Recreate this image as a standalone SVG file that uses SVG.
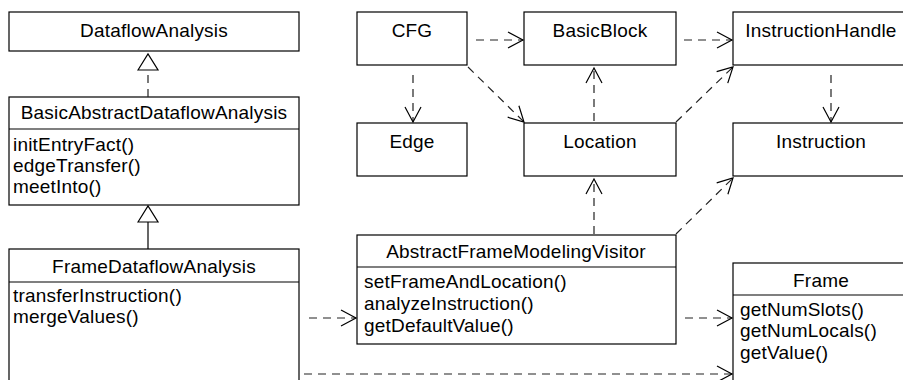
<svg xmlns="http://www.w3.org/2000/svg" width="903" height="380" viewBox="0 0 903 380">
<style>
.box{fill:#fff;stroke:#000;stroke-width:1.2}
.sep{stroke:#000;stroke-width:1.2}
text{font-family:"Liberation Sans",Arial,sans-serif;font-size:19px;fill:#000;letter-spacing:0.2px}
.c{text-anchor:middle}
.dep{fill:none;stroke:#222;stroke-width:1.2;stroke-dasharray:8,6}
.sol{fill:none;stroke:#000;stroke-width:1.2}
</style>
<defs>
<marker id="open" markerUnits="userSpaceOnUse" markerWidth="20" markerHeight="20" viewBox="0 0 20 20" refX="17" refY="10" orient="auto">
<path d="M2,2 L17,10 L2,18" fill="none" stroke="#000" stroke-width="1.2"/>
</marker>
<marker id="tri" markerUnits="userSpaceOnUse" markerWidth="22" markerHeight="24" viewBox="0 0 22 24" refX="19" refY="12" orient="auto">
<path d="M3,2 L19,12 L3,22 Z" fill="#fff" stroke="#000" stroke-width="1.2"/>
</marker>
</defs>

<g id="DataflowAnalysis">
<rect class="box" x="9" y="12" width="290" height="39"/>
<text class="c" x="154" y="37">DataflowAnalysis</text>
</g>
<g id="BasicAbstractDataflowAnalysis">
<rect class="box" x="9" y="97" width="290" height="108"/>
<line class="sep" x1="9" y1="129" x2="299" y2="129"/>
<text class="c" x="154" y="119">BasicAbstractDataflowAnalysis</text>
<text x="13" y="151">initEntryFact()</text>
<text x="13" y="172">edgeTransfer()</text>
<text x="13" y="193">meetInto()</text>
</g>
<g id="FrameDataflowAnalysis">
<rect class="box" x="9" y="249" width="290" height="140"/>
<line class="sep" x1="9" y1="282" x2="299" y2="282"/>
<text class="c" x="154" y="273">FrameDataflowAnalysis</text>
<text x="13" y="302">transferInstruction()</text>
<text x="13" y="323">mergeValues()</text>
</g>
<g id="CFG">
<rect class="box" x="357" y="12" width="110" height="53"/>
<text class="c" x="412" y="37">CFG</text>
</g>
<g id="BasicBlock">
<rect class="box" x="524" y="12" width="152" height="53"/>
<text class="c" x="600" y="37">BasicBlock</text>
</g>
<g id="InstructionHandle">
<rect class="box" x="733" y="12" width="176" height="53"/>
<text class="c" x="821" y="37">InstructionHandle</text>
</g>
<g id="Edge">
<rect class="box" x="357" y="123" width="110" height="53"/>
<text class="c" x="412" y="148">Edge</text>
</g>
<g id="Location">
<rect class="box" x="524" y="123" width="152" height="53"/>
<text class="c" x="600" y="148">Location</text>
</g>
<g id="Instruction">
<rect class="box" x="733" y="123" width="176" height="53"/>
<text class="c" x="821" y="148">Instruction</text>
</g>
<g id="AbstractFrameModelingVisitor">
<rect class="box" x="357" y="235" width="319" height="109"/>
<line class="sep" x1="357" y1="267" x2="676" y2="267"/>
<text class="c" x="516" y="258">AbstractFrameModelingVisitor</text>
<text x="364" y="288">setFrameAndLocation()</text>
<text x="364" y="310">analyzeInstruction()</text>
<text x="364" y="332">getDefaultValue()</text>
</g>
<g id="Frame">
<rect class="box" x="733" y="263" width="176" height="130"/>
<line class="sep" x1="733" y1="295" x2="909" y2="295"/>
<text class="c" x="821" y="287">Frame</text>
<text x="740" y="316">getNumSlots()</text>
<text x="740" y="337">getNumLocals()</text>
<text x="740" y="359">getValue()</text>
</g>

<g id="connectors">
<path class="dep" d="M148,97 L148,54" marker-end="url(#tri)"/>
<path class="sol" d="M148,249 L148,206" marker-end="url(#tri)"/>
<path class="dep" d="M476,40 L523,40" marker-end="url(#open)"/>
<path class="dep" d="M684,40 L732,40" marker-end="url(#open)"/>
<path class="dep" d="M413,75 L413,122" marker-end="url(#open)"/>
<path class="dep" d="M468,67 L524,122" marker-end="url(#open)"/>
<path class="dep" d="M594,121 L594,68" marker-end="url(#open)"/>
<path class="dep" d="M676,122 L733,67" marker-end="url(#open)"/>
<path class="dep" d="M831,75 L831,122" marker-end="url(#open)"/>
<path class="dep" d="M594,234 L594,179" marker-end="url(#open)"/>
<path class="dep" d="M676,234 L733,178" marker-end="url(#open)"/>
<path class="dep" d="M309,318 L356,318" marker-end="url(#open)"/>
<path class="dep" d="M685,318 L732,318" marker-end="url(#open)"/>
<path class="dep" d="M304,374 L732,374" marker-end="url(#open)"/>
</g>
</svg>
